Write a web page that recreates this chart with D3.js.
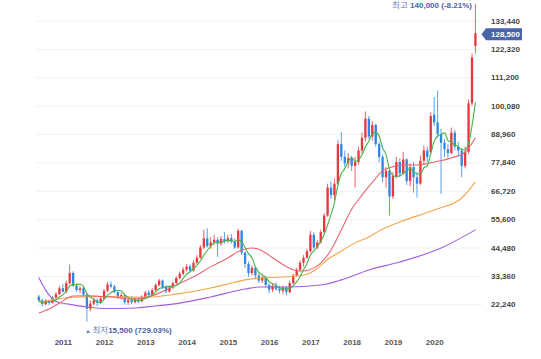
<!DOCTYPE html>
<html><head><meta charset="utf-8">
<script src="https://cdn.jsdelivr.net/npm/d3@7"></script>
<style>
html,body{margin:0;padding:0;background:#fff;}
svg{display:block;font-family:"Liberation Sans",Arial,"Noto Sans CJK KR",sans-serif;}
</style></head>
<body>
<svg id="c" width="541" height="359"></svg>
<script>
// ---- data (monthly, Jun 2010 .. Jan 2021) ----
const startMonth = new Date(2010, 5, 1);
const endMonth = new Date(2021, 1, 1);
const opens = [25200,23800,22300,23500,22800,24800,26200,28500,27200,30500,34500,29500,27800,28500,26000,20500,22500,23800,22800,24500,27500,30000,29200,27000,25000,25800,23000,23800,23000,24200,23400,25200,26800,25800,27800,29800,31500,29000,27200,28800,30500,32500,34200,35800,37000,35500,38500,40500,44500,48000,45000,46500,47500,46000,47800,47000,48200,46800,44500,51000,42500,38000,34500,36500,33500,31500,32800,29800,28000,29500,28200,27500,28800,27000,30500,33500,35800,38500,40500,43000,49500,44500,46500,50500,57000,68000,65000,69500,85000,80000,77500,79500,76500,78000,82500,87500,95000,88000,92500,85000,80000,72000,74500,64500,72500,78000,73500,79000,70500,76000,72000,69500,78500,82500,82000,96500,93500,89000,85500,83000,81500,89500,84000,82500,76500,82000,101000,123500];
const highs = [26000,24500,24200,24000,25500,27000,29500,30200,31500,37800,35200,30500,29500,29000,26500,23800,24800,24500,25200,28200,31000,31200,30000,27500,26800,26200,24800,25500,25000,24800,25800,27500,27800,28500,30500,32200,32000,29800,29500,31200,33200,35000,36800,38000,37800,39500,41500,45500,51500,52000,48500,49500,48500,49000,50500,49500,49800,48000,51800,51500,43000,39000,37500,37000,34500,33500,33200,30500,30500,30800,29500,29500,29300,31500,34200,36500,39500,41500,44000,51000,50500,47500,51500,58000,69500,70500,71500,86500,89800,82500,81500,80500,80000,84000,89500,97800,96000,94000,93000,86000,81000,76000,75000,74000,80000,79500,82000,79500,77500,78000,74000,80500,84500,84000,97500,103500,106000,91000,87000,85000,91500,90500,86000,83500,84000,102500,120500,140000];
const lows = [23200,21500,21800,22000,22500,24300,25800,26800,26500,30000,29000,27000,26500,25200,15500,19500,21800,21500,22300,24000,27000,28500,26500,24300,24200,22200,22000,22300,22500,22600,23000,24800,25200,25400,27200,29200,28200,26500,26800,28200,30000,32000,33500,35000,34800,35000,38000,40000,43800,44500,44000,45500,40800,45200,46000,46200,46000,44000,44000,41500,36500,33000,33500,32000,30500,30500,28800,26500,27000,27500,26500,26200,25800,26500,30000,33000,35000,37000,40000,42500,44000,43800,46000,50000,56500,63500,63000,69000,78500,76000,75500,74500,68000,77000,81500,86000,87000,86500,84000,78000,70000,68000,57000,63500,71500,72000,73000,69000,68500,66000,64000,69000,77000,78000,81000,92000,87500,65500,80000,79500,81000,82500,80000,72000,75500,81000,100000,120500];
const closes = [23800,22300,23500,22800,24800,26200,28500,27200,30500,34500,29500,27800,28500,26000,20500,22500,23800,22800,24500,27500,30000,29200,27000,25000,25800,23000,23800,23000,24200,23400,25200,26800,25800,27800,29800,31500,29000,27200,28800,30500,32500,34200,35800,37000,35500,38500,40500,44500,48000,45000,46500,47500,46000,47800,47000,48200,46800,44500,51000,42500,38000,34500,36500,33500,31500,32800,29800,28000,29500,28200,27500,28800,27000,30500,33500,35800,38500,40500,43000,49500,44500,46500,50500,57000,68000,65000,69500,85000,80000,77500,79500,76500,78000,82500,87500,95000,88000,92500,85000,80000,72000,74500,64500,72500,78000,73500,79000,70500,76000,72000,69500,78500,82500,80000,96000,93500,89000,85500,83000,81500,89500,84000,82500,76500,82000,101000,119000,128500];
// moving averages: [month index, value]
const ma20 = [[0,18800],[3,20400],[6,22700],[10,25500],[14,25600],[18,25300],[22,25000],[26,24300],[31,24800],[36,27200],[40,29800],[45,33000],[50,36900],[55,40400],[59,43500],[62,44300],[64,43800],[66,42300],[68,40500],[71,37800],[74,35800],[77,35300],[80,36500],[82,38400],[85,43500],[88,51400],[91,59500],[94,65000],[97,70000],[100,74500],[103,76200],[106,76800],[110,76800],[115,78000],[120,79600],[124,81900],[127,87500]];
const ma60 = [[0,23000],[10,25000],[20,25300],[31,25000],[40,26200],[50,28600],[55,30200],[60,31800],[64,32500],[72,33000],[78,34000],[81,36300],[84,39800],[87,42300],[92,46300],[96,48600],[99,51000],[105,54500],[115,59200],[123,63900],[127,70200]];
const ma120 = [[0,32700],[2,27800],[5,23300],[9,22200],[14,21200],[19,20600],[28,20800],[32,21300],[41,22700],[50,25100],[60,28200],[64,29000],[72,29000],[82,29800],[88,31800],[96,35700],[105,38800],[117,44300],[127,51400]];
const yTicks = [22240,33360,44480,55600,66720,77840,88960,100080,111200,122320,133440];
const yearLabels = ["2011","2012","2013","2014","2015","2016","2017","2018","2019","2020"];
const highInfo = {value:140000, text:"140,000 (-8.21%)", label:"최고 "};
const lowInfo = {value:15500, text:"15,500 (729.03%)", label:"최저"};
const lastPrice = 128500;

// ---- drawing ----
const months = d3.timeMonth.range(startMonth, endMonth);
const n = months.length;
const svg = d3.select("#c");
const x = d3.scaleBand().domain(d3.range(n)).range([37.6, 476.6]).paddingInner(0.32);
const cx = i => x(i) + x.bandwidth()/2;
const y = d3.scaleLinear().domain([0, 141500]).range([361, 0]);

// gridlines
const grid = svg.append("g").attr("transform","translate(482,0)")
  .call(d3.axisLeft(y).tickValues(yTicks).tickSize(446).tickFormat(""));
grid.select(".domain").remove();
grid.selectAll("line").attr("stroke","#f1f1f1").attr("stroke-width",1);

// y axis labels
const ya = svg.append("g").attr("transform","translate(491,0)")
  .call(d3.axisRight(y).tickValues(yTicks).tickSize(0).tickPadding(0).tickFormat(d3.format(",")));
ya.select(".domain").remove();
ya.selectAll("text").attr("fill","#444").attr("font-size","8px").attr("font-weight","bold")
  .attr("font-family",'"Liberation Sans",Arial,sans-serif');

// x axis labels
const janIdx = yearLabels.map(yl => months.findIndex(m => m.getFullYear() === +yl && m.getMonth() === 0));
const xa = svg.append("g").attr("transform","translate(0,339.5)")
  .call(d3.axisBottom(d3.scaleLinear().domain([0, n-1]).range([cx(0), cx(n-1)]))
    .tickValues(janIdx).tickSize(0).tickPadding(0).tickFormat((d,i) => yearLabels[i]));
xa.select(".domain").remove();
xa.selectAll("text").attr("fill","#555").attr("font-size","8px").attr("font-weight","bold")
  .attr("font-family",'"Liberation Sans",Arial,sans-serif');

// candles
const RED = "#e8383f", BLUE = "#2f86e6";
const candles = svg.append("g").selectAll("g").data(d3.range(n)).join("g")
  .attr("fill", i => closes[i] >= opens[i] ? RED : BLUE)
  .attr("stroke", i => closes[i] >= opens[i] ? RED : BLUE);
candles.append("line")
  .attr("x1", i => cx(i)).attr("x2", i => cx(i))
  .attr("y1", i => y(highs[i])).attr("y2", i => y(lows[i]))
  .attr("stroke-width", 0.8);
candles.append("rect")
  .attr("x", i => x(i)).attr("width", x.bandwidth())
  .attr("y", i => y(Math.max(opens[i], closes[i])))
  .attr("height", i => Math.max(0.8, Math.abs(y(opens[i]) - y(closes[i]))))
  .attr("stroke","none");

// moving averages
const ma5 = d3.range(n).map(i => [i, d3.mean(closes.slice(Math.max(0, i-4), i+1))]);
const line = d3.line().x(d => cx(d[0])).y(d => y(d[1])).curve(d3.curveMonotoneX);
[[ma120,"#a05fe0"],[ma60,"#f4a54c"],[ma20,"#e9646d"],[ma5,"#45b449"]].forEach(([data,col]) => {
  svg.append("path").datum(data).attr("d", line).attr("fill","none")
    .attr("stroke", col).attr("stroke-width", 1.1);
});

// high label (kept fully inside the frame)
const hiIdx = highs.indexOf(highInfo.value);
const ht = svg.append("text").attr("x", cx(hiIdx) - 3.5).attr("y", y(highInfo.value) + 4.5)
  .attr("text-anchor","end").attr("font-size","8px");
ht.append("tspan").attr("fill","#6b7fb5").attr("font-size","8.5px").text(highInfo.label);
ht.append("tspan").attr("fill","#4a62a6").attr("font-weight","bold").text(highInfo.text);

// low label
const loIdx = lows.indexOf(lowInfo.value);
const lt = svg.append("text").attr("x", cx(loIdx) - 2).attr("y", y(lowInfo.value) + 11.5)
  .attr("font-size","8px");
lt.append("tspan").attr("fill","#6b7fb5").attr("font-size","6px").text("▲ ");
lt.append("tspan").attr("fill","#6b7fb5").attr("font-size","8.5px").text(lowInfo.label);
lt.append("tspan").attr("fill","#4a62a6").attr("font-weight","bold").text(lowInfo.text);

// current price tag
const py = y(lastPrice) + 1;
svg.append("path")
  .attr("d", `M481.5,${py} L486,${py-6} L522,${py-6} L522,${py+6} L486,${py+6} Z`)
  .attr("fill","#4a66a8");
svg.append("text").attr("x",491).attr("y",py).attr("dy","0.34em")
  .attr("fill","#fff").attr("font-size","8px").attr("font-weight","bold")
  .attr("font-family",'"Liberation Sans",Arial,sans-serif')
  .text(d3.format(",")(lastPrice));
</script>
</body></html>
